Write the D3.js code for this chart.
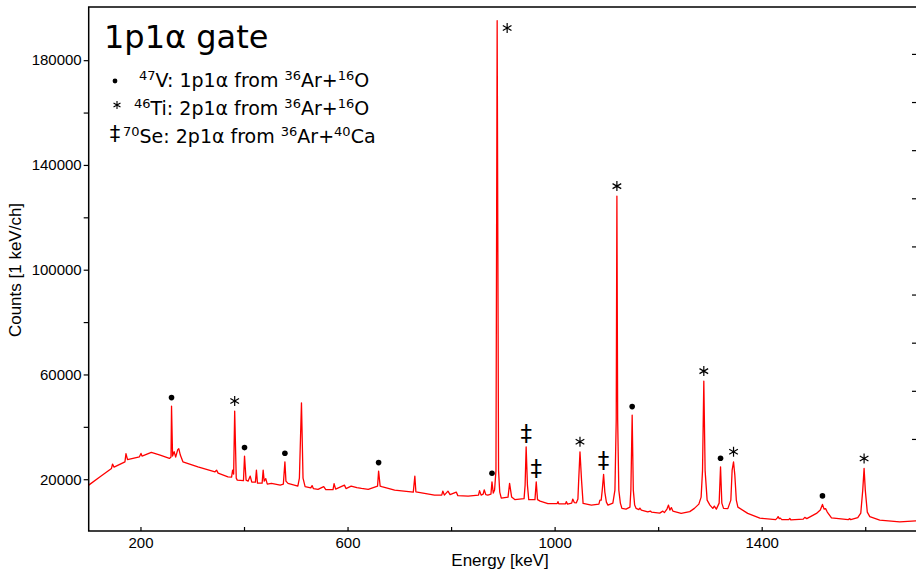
<!DOCTYPE html>
<html>
<head>
<meta charset="utf-8">
<script src="https://cdn.jsdelivr.net/npm/d3@7"></script>
<style>
  body { margin: 0; background: #fff; }
  svg { display: block; }
  text { font-family: "DejaVu Sans", sans-serif; fill: #000; }
  .tick text, .axis-title { font-family: "Liberation Sans", Arial, sans-serif; }
</style>
</head>
<body>
<svg id="chart" width="916" height="571"></svg>
<script>
// spectrum: [energy keV, counts]
const spectrum = [
  [100,17750],[122,20920],[144,24130],[146,25770],[149,24630],[170,26650],[172,29780],[175,27490],
  [198,28560],[201,29860],[203,28830],[221,30240],[238,29210],[256,27950],[259,28440],[260,47920],
  [262,28830],[265,30540],[268,28440],[272,31310],[274,31690],[277,29210],[282,26650],[311,24740],
  [344,22830],[347,23480],[350,22330],[369,20920],[376,20810],[378,23480],[380,21950],[382,46010],
  [385,20430],[387,19660],[399,19470],[401,28830],[404,19660],[408,19280],[412,21190],[415,18900],
  [422,18900],[424,23480],[426,18520],[435,18520],[437,23480],[439,19280],[442,20240],[445,18140],
  [453,18400],[470,17750],[476,18140],[479,26650],[481,19280],[485,18400],[504,17370],[507,20430],
  [511,49180],[514,20430],[518,17180],[529,16720],[531.5,17560],[534,16420],[543,16110],[554,17180],
  [558,16040],[572,16040],[574,18330],[577,16230],[594,17750],[597,16420],[607,17370],[618,16800],
  [627,16490],[640,16110],[658,17370],[660,23100],[663,17370],[666,17180],[691,15840],[727,15080],
  [730,21190],[732,15200],[768,13940],[782,13940],[784,15460],[787,13940],[794,15460],[798,14130],
  [810,15080],[813,13740],[833,13550],[853,13940],[855,15650],[858,13940],[862,14320],[864,15960],
  [867,14130],[871,13940],[877,14320],[879,19010],[881.5,14700],[884,15840],[886.7,23290],[889,195100],
  [891.7,23290],[894,15080],[897,12790],[910,13170],[913,18400],[917,13170],[923,12220],[941,12600],
  [943,17750],[945,32380],[947.5,17750],[950,12220],[962,12220],[964.5,19010],[967,12220],[972,11640],
  [987,10690],[1005,10690],[1006.5,11450],[1008,10580],[1021,10580],[1022.5,11450],[1025,10500],[1033,10880],
  [1035,12410],[1038,11070],[1042,11000],[1045,12410],[1046.5,19660],[1049,30470],[1052,19660],[1055,10770],
  [1071,10120],[1085.5,10500],[1087.5,12030],[1090,12030],[1092,15840],[1094.6,21840],[1097,15080],[1100,11260],
  [1103,10120],[1112.5,10880],[1116.5,15840],[1119,42570],[1120.3,128100],[1121.8,42570],[1124,15840],[1127,10880],
  [1130,8860],[1138,8590],[1145.5,9350],[1147.3,15840],[1149.8,44480],[1152,15840],[1154.6,10120],[1157.5,8860],
  [1162.7,8400],[1164.7,8970],[1167.5,8210],[1180,7560],[1185,7830],[1187,7450],[1203,7060],[1209,7830],
  [1212,7250],[1217,8590],[1220,10120],[1222.6,8210],[1225.5,9160],[1228.4,7830],[1244.4,6950],[1261,7640],
  [1270,8860],[1278.6,10500],[1283,13170],[1285.7,23290],[1288.2,57460],[1290.7,23290],[1294.6,12030],[1300,10120],
  [1305.6,8860],[1308.5,9740],[1312.4,8590],[1317.8,10880],[1320.5,24740],[1323,10880],[1326.3,8860],[1334.6,8780],
  [1340.4,12030],[1342.9,23480],[1345.6,26650],[1348.1,21570],[1351,12030],[1354,9350],[1373,6950],[1396.4,5150],
  [1427,4580],[1429.8,5150],[1431.7,5730],[1434,4960],[1436,5150],[1438.8,4580],[1452.3,4580],[1454.3,5040],
  [1456.2,4470],[1480.3,4770],[1483.2,5420],[1487.1,4960],[1505.8,6950],[1513.2,8210],[1517.4,10380],[1520.5,8590],
  [1523.4,8780],[1526.7,7450],[1534.8,5270],[1567.2,4580],[1570.2,4960],[1572.1,4540],[1585.6,5350],[1591.4,7060],
  [1595.2,15840],[1597.8,24130],[1600.1,15840],[1604,7450],[1608.8,5730],[1628,4390],[1666.7,3740],[1697.6,4120],
  [1700,4120]
];

// peak labels (energy of the marked line)
const dotPeaks = [260, 401, 479, 660, 879, 1149.8, 1320.5, 1517.4];
const starPeaks = [382, 889, 1049, 1120.3, 1288.2, 1345.6, 1597.8];
const daggerPeaks = [945, 964.5, 1094.6];

const xTickValues = [200, 400, 600, 800, 1000, 1200, 1400, 1600];
const xTickLabels = [200, 600, 1000, 1400];
const yTickValues = [20000, 40000, 60000, 80000, 100000, 120000, 140000, 160000, 180000];
const yTickLabels = [20000, 60000, 100000, 140000, 180000];
const rightTickValues = [2, 3, 4, 5, 6, 7, 8, 9, 10];

const titleText = "1p1α gate";
const legendItems = [
  { sym: "dot", parts: [["47", 1], ["V: 1p1α from ", 0], ["36", 1], ["Ar+", 0], ["16", 1], ["O", 0]] },
  { sym: "star", parts: [["46", 1], ["Ti: 2p1α from ", 0], ["36", 1], ["Ar+", 0], ["16", 1], ["O", 0]] },
  { sym: "dagger", parts: [["70", 1], ["Se: 2p1α from ", 0], ["36", 1], ["Ar+", 0], ["40", 1], ["Ca", 0]] }
];

const svg = d3.select("#chart");
const pLeft = 88.7, pRight = 917, pTop = 7, pBottom = 531;

const x = d3.scaleLinear().domain([100, 1700]).range([pLeft, pRight]);
const y = d3.scaleLinear().domain([0, 200000]).range([531.6, 7.8]);
const yRight = d3.scaleLinear().domain([0, 10]).range([535.2, 53.9]);

svg.append("defs").append("clipPath").attr("id", "plotclip")
  .append("rect").attr("x", pLeft).attr("y", pTop).attr("width", pRight - pLeft).attr("height", pBottom - pTop);

// spectrum line
svg.append("path")
  .datum(spectrum)
  .attr("clip-path", "url(#plotclip)")
  .attr("fill", "none")
  .attr("stroke", "#ff0000")
  .attr("stroke-width", 1.3)
  .attr("stroke-linejoin", "round")
  .attr("d", d3.line().x(d => x(d[0])).y(d => y(d[1])));

// axes
const xAxis = svg.append("g")
  .attr("transform", `translate(0,${pBottom})`)
  .call(d3.axisBottom(x).tickValues(xTickValues).tickSize(-4).tickPadding(6)
    .tickFormat(d => xTickLabels.includes(d) ? d : ""));
const yAxis = svg.append("g")
  .attr("transform", `translate(${pLeft},0)`)
  .call(d3.axisLeft(y).tickValues(yTickValues).tickSize(5).tickPadding(2)
    .tickFormat(d => yTickLabels.includes(d) ? d3.format("d")(d) : ""));
const rAxis = svg.append("g")
  .attr("transform", `translate(${pRight},0)`)
  .call(d3.axisRight(yRight).tickValues(rightTickValues).tickSize(-5).tickFormat(""));

[xAxis, yAxis, rAxis].forEach(g => {
  g.select(".domain").remove();
  g.selectAll(".tick line").attr("stroke", "#000").attr("stroke-width", 1.2);
  g.selectAll(".tick text").attr("font-size", 15).attr("fill", "#000");
});

// frame
svg.append("rect")
  .attr("x", pLeft).attr("y", pTop)
  .attr("width", pRight - pLeft).attr("height", pBottom - pTop)
  .attr("fill", "none").attr("stroke", "#000").attr("stroke-width", 1.5);

// axis titles
svg.append("text").attr("class", "axis-title")
  .attr("x", 500).attr("y", 566)
  .attr("text-anchor", "middle").attr("font-size", 17)
  .text("Energy [keV]");
svg.append("text").attr("class", "axis-title")
  .attr("transform", "translate(21,270) rotate(-90)")
  .attr("text-anchor", "middle").attr("font-size", 17)
  .text("Counts [1 keV/ch]");

// peak markers
function peakTop(E) {
  return d3.max(spectrum.filter(d => Math.abs(d[0] - E) <= 3), d => d[1]);
}
function markerPos(E, off) {
  let px = x(E), py = y(peakTop(E)) - off;
  if (py < pTop + 12) { px += 10; py = pTop + 21; }
  return [px, py];
}
const marks = svg.append("g");
dotPeaks.forEach(E => {
  const [px, py] = markerPos(E, 8.5);
  marks.append("circle").attr("cx", px).attr("cy", py).attr("r", 2.8).attr("fill", "#000");
});
starPeaks.forEach(E => {
  const [px, py] = markerPos(E, 10);
  marks.append("path")
    .attr("transform", `translate(${px},${py})`)
    .attr("d", d3.symbol(d3.symbolAsterisk, 70)())
    .attr("fill", "none").attr("stroke", "#000").attr("stroke-width", 1.2);
});
daggerPeaks.forEach(E => {
  const [px, py] = markerPos(E, 12.5);
  marks.append("text")
    .attr("x", px).attr("y", py + 6.5)
    .attr("text-anchor", "middle").attr("font-size", 23)
    .text("‡");
});

// title and legend
svg.append("text")
  .attr("x", 104).attr("y", 48)
  .attr("font-size", 32)
  .text(titleText);

const legendY = [87, 115, 143];
const legendTextX = [139, 134, 123];
const legend = svg.append("g");
legendItems.forEach((item, i) => {
  const by = legendY[i];
  if (item.sym === "dot") {
    legend.append("circle").attr("cx", 115).attr("cy", by - 6).attr("r", 2.4).attr("fill", "#000");
  } else if (item.sym === "star") {
    legend.append("path")
      .attr("transform", `translate(117,${by - 10})`)
      .attr("d", d3.symbol(d3.symbolAsterisk, 45)())
      .attr("fill", "none").attr("stroke", "#000").attr("stroke-width", 1.1);
  } else {
    legend.append("text").attr("x", 115).attr("y", by - 2)
      .attr("text-anchor", "middle").attr("font-size", 21).text("‡");
  }
  const t = legend.append("text").attr("x", legendTextX[i]).attr("y", by).attr("font-size", 19)
    .style("white-space", "pre");
  let raised = false;
  item.parts.forEach(([s, sup]) => {
    const ts = t.append("tspan").text(s);
    if (sup && !raised) { ts.attr("dy", -7).attr("font-size", 13); raised = true; }
    else if (sup) { ts.attr("font-size", 13); }
    else if (raised) { ts.attr("dy", 7); raised = false; }
  });
});
</script>
</body>
</html>
